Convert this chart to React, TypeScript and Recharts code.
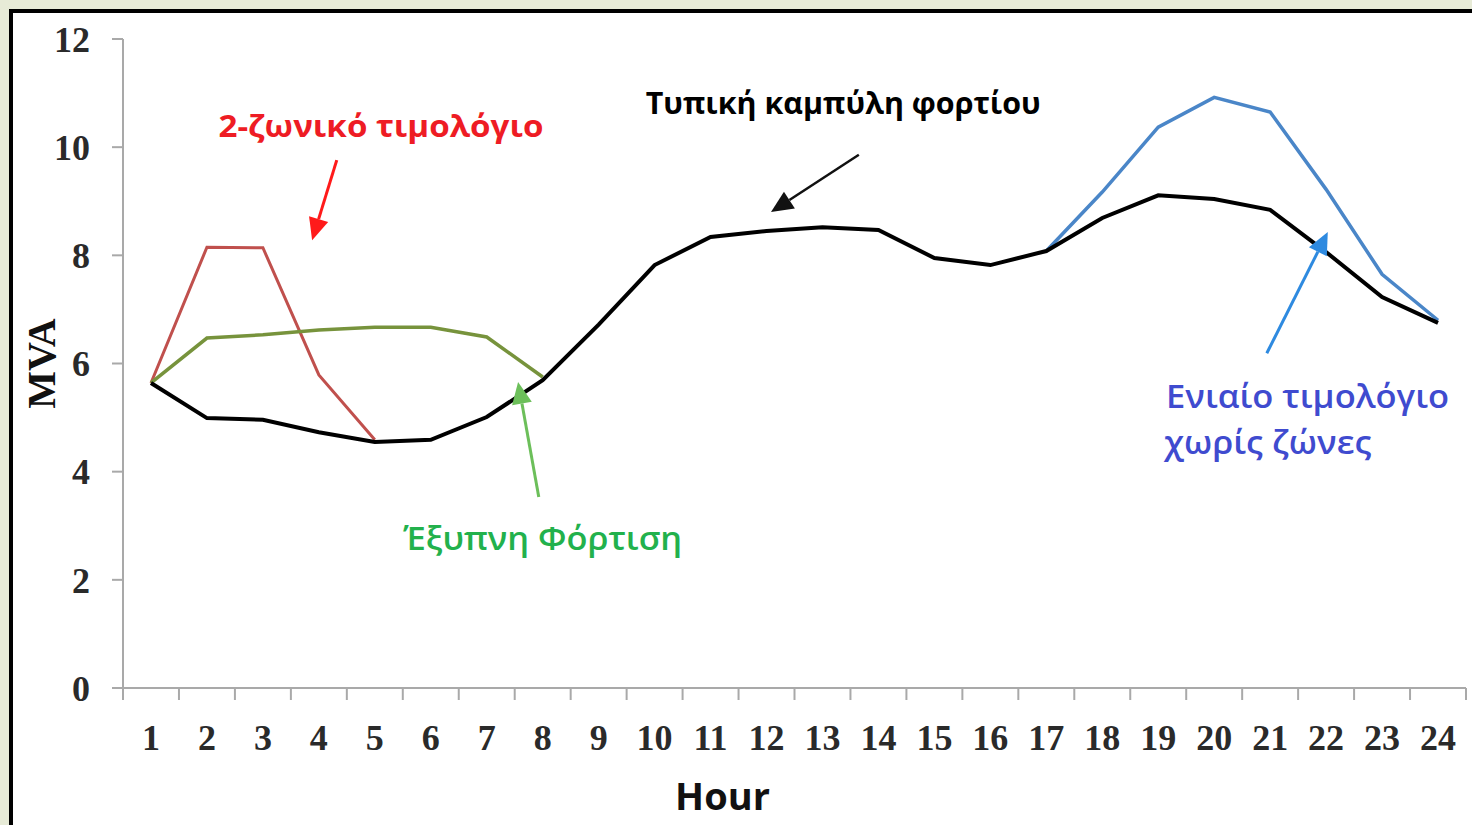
import React from 'react';
import { LineChart, Line, XAxis, YAxis, ReferenceLine, ReferenceDot } from 'recharts';

// ---- data ----
const hours = [1, 2, 3, 4, 5, 6, 7, 8, 9, 10, 11, 12, 13, 14, 15, 16, 17, 18, 19, 20, 21, 22, 23, 24];
const typicalLoad = [5.64, 4.99, 4.96, 4.73, 4.55, 4.59, 5.01, 5.69, 6.72, 7.82, 8.34, 8.45, 8.52, 8.47, 7.95, 7.82, 8.08, 8.69, 9.11, 9.04, 8.84, 8.06, 7.23, 6.75];
const twoZoneTariff = [5.64, 8.15, 8.14, 5.79, 4.59, null, null, null, null, null, null, null, null, null, null, null, null, null, null, null, null, null, null, null];
const smartCharging = [5.64, 6.47, 6.53, 6.62, 6.67, 6.67, 6.49, 5.75, null, null, null, null, null, null, null, null, null, null, null, null, null, null, null, null];
const flatTariff = [null, null, null, null, null, null, null, null, null, null, null, null, null, null, null, null, 8.08, 9.17, 10.37, 10.92, 10.65, 9.22, 7.65, 6.80];
const yTicks = [0, 2, 4, 6, 8, 10, 12];

const data = hours.map((h, i) => ({
  hour: h,
  typical: typicalLoad[i],
  twoZone: twoZoneTariff[i],
  smart: smartCharging[i],
  flat: flatTariff[i],
}));

// tick positions: labels at each hour, tick marks at boundaries
const xTicks: number[] = [];
hours.forEach((h) => { xTicks.push(h - 0.5); xTicks.push(h); });
xTicks.push(hours[hours.length - 1] + 0.5);

const AXIS_GRAY = '#a9a9a9';
const SERIF = '"Liberation Serif", "Times New Roman", serif';
const SANS = '"Open Sans", "Noto Sans", sans-serif';

const XTick = (props: any) => {
  const { x, y, payload } = props;
  const v = payload.value;
  if (Number.isInteger(v)) {
    return (
      <text x={x} y={y + 62} textAnchor="middle" fontFamily={SERIF} fontSize={36} fontWeight="bold" fill="#2a2a2a">
        {v}
      </text>
    );
  }
  return <line x1={x} y1={y} x2={x} y2={y + 12} stroke={AXIS_GRAY} strokeWidth={2} />;
};

const makeArrow = (color: string, width: number, headLen: number, headW: number) => (p: any) => {
  const { x1, y1, x2, y2 } = p;
  const dx = x2 - x1;
  const dy = y2 - y1;
  const len = Math.sqrt(dx * dx + dy * dy);
  const ux = dx / len;
  const uy = dy / len;
  const bx = x2 - ux * headLen;
  const by = y2 - uy * headLen;
  const nx = -uy;
  const ny = ux;
  return (
    <g>
      <line x1={x1} y1={y1} x2={bx} y2={by} stroke={color} strokeWidth={width} />
      <polygon
        points={`${x2},${y2} ${bx + nx * headW / 2},${by + ny * headW / 2} ${bx - nx * headW / 2},${by - ny * headW / 2}`}
        fill={color}
      />
    </g>
  );
};

const makeText = (text: string, color: string, size: number, weight: any, anchor: string, length?: number) => (p: any) => (
  <text
    x={p.cx}
    y={p.cy}
    textAnchor={anchor}
    fontFamily={SANS}
    fontSize={size}
    fontWeight={weight}
    fill={color}
    {...(length ? { textLength: length, lengthAdjust: 'spacingAndGlyphs' } : {})}
  >
    {text}
  </text>
);

export default function App() {
  return (
    <div style={{ position: 'fixed', left: 0, top: 0, width: 1472, height: 825, background: '#e7ebd7', overflow: 'hidden' }}>
      <div style={{ position: 'absolute', left: 9, top: 9, width: 1480, height: 840, border: '4px solid #000', background: '#fff' }} />
      <div style={{ position: 'absolute', left: 0, top: 0 }}>
        <LineChart width={1472} height={825} data={data} margin={{ top: 39, right: 6, bottom: 17, left: 43 }}>
          <XAxis
            dataKey="hour"
            type="number"
            domain={[0.5, 24.5]}
            ticks={xTicks}
            interval={0}
            tickLine={false}
            tickSize={0}
            tickMargin={0}
            tick={<XTick />}
            height={120}
            axisLine={{ stroke: AXIS_GRAY, strokeWidth: 2 }}
            label={{
              content: (lp: any) => {
                const vb = lp.viewBox;
                return (
                  <text x={vb.x + vb.width / 2 - 72} y={vb.y + 122} textAnchor="middle" fontFamily={SANS} fontSize={38} fontWeight="bold" fill="#111">
                    Hour
                  </text>
                );
              },
            }}
          />
          <YAxis
            type="number"
            domain={[0, 12]}
            ticks={yTicks}
            width={80}
            tickSize={11}
            tickMargin={22}
            tickLine={{ stroke: AXIS_GRAY, strokeWidth: 2 }}
            axisLine={{ stroke: AXIS_GRAY, strokeWidth: 2 }}
            tick={{ fontFamily: SERIF, fontSize: 36, fontWeight: 'bold', fill: '#2a2a2a' }}
            label={{
              content: (lp: any) => {
                const vb = lp.viewBox;
                const cx = vb.x - 2;
                const cy = vb.y + vb.height / 2;
                return (
                  <text x={cx} y={cy} transform={`rotate(-90 ${cx} ${cy})`} textAnchor="middle" dominantBaseline="central" fontFamily={SERIF} fontSize={40} fontWeight="bold" fill="#111">
                    MVA
                  </text>
                );
              },
            }}
          />
          <Line dataKey="twoZone" stroke="#c0504d" strokeWidth={3} dot={false} isAnimationActive={false} />
          <Line dataKey="smart" stroke="#77933c" strokeWidth={3.5} dot={false} isAnimationActive={false} />
          <Line dataKey="flat" stroke="#4a86c8" strokeWidth={3.5} dot={false} isAnimationActive={false} />
          <Line dataKey="typical" stroke="#000" strokeWidth={4} dot={false} isAnimationActive={false} />

          {/* annotation arrows */}
          <ReferenceLine segment={[{ x: 4.32, y: 9.76 }, { x: 3.88, y: 8.28 }]} shape={makeArrow('#ff1a1a', 3, 22, 20)} />
          <ReferenceLine segment={[{ x: 13.65, y: 9.86 }, { x: 12.08, y: 8.8 }]} shape={makeArrow('#111', 2.5, 22, 20)} />
          <ReferenceLine segment={[{ x: 7.93, y: 3.53 }, { x: 7.56, y: 5.66 }]} shape={makeArrow('#6cbf5a', 3, 22, 20)} />
          <ReferenceLine segment={[{ x: 20.94, y: 6.19 }, { x: 22.03, y: 8.43 }]} shape={makeArrow('#2e8ae0', 3, 22, 20)} />

          {/* annotation texts */}
          <ReferenceDot x={5.11} y={10.19} shape={makeText('2-ζωνικό τιμολόγιο', '#ee1c24', 31, 'bold', 'middle', 325)} />
          <ReferenceDot x={13.37} y={10.62} shape={makeText('Τυπική καμπύλη φορτίου', '#000', 31, 'bold', 'middle', 395)} />
          <ReferenceDot x={8.0} y={2.55} shape={makeText('Έξυπνη Φόρτιση', '#22b14c', 32, 600, 'middle', 279)} />
          <ReferenceDot x={19.14} y={5.17} shape={makeText('Ενιαίο τιμολόγιο', '#3f4bcf', 32, 600, 'start', 283)} />
          <ReferenceDot x={19.11} y={4.33} shape={makeText('χωρίς ζώνες', '#3f4bcf', 32, 600, 'start', 207)} />
        </LineChart>
      </div>
    </div>
  );
}
